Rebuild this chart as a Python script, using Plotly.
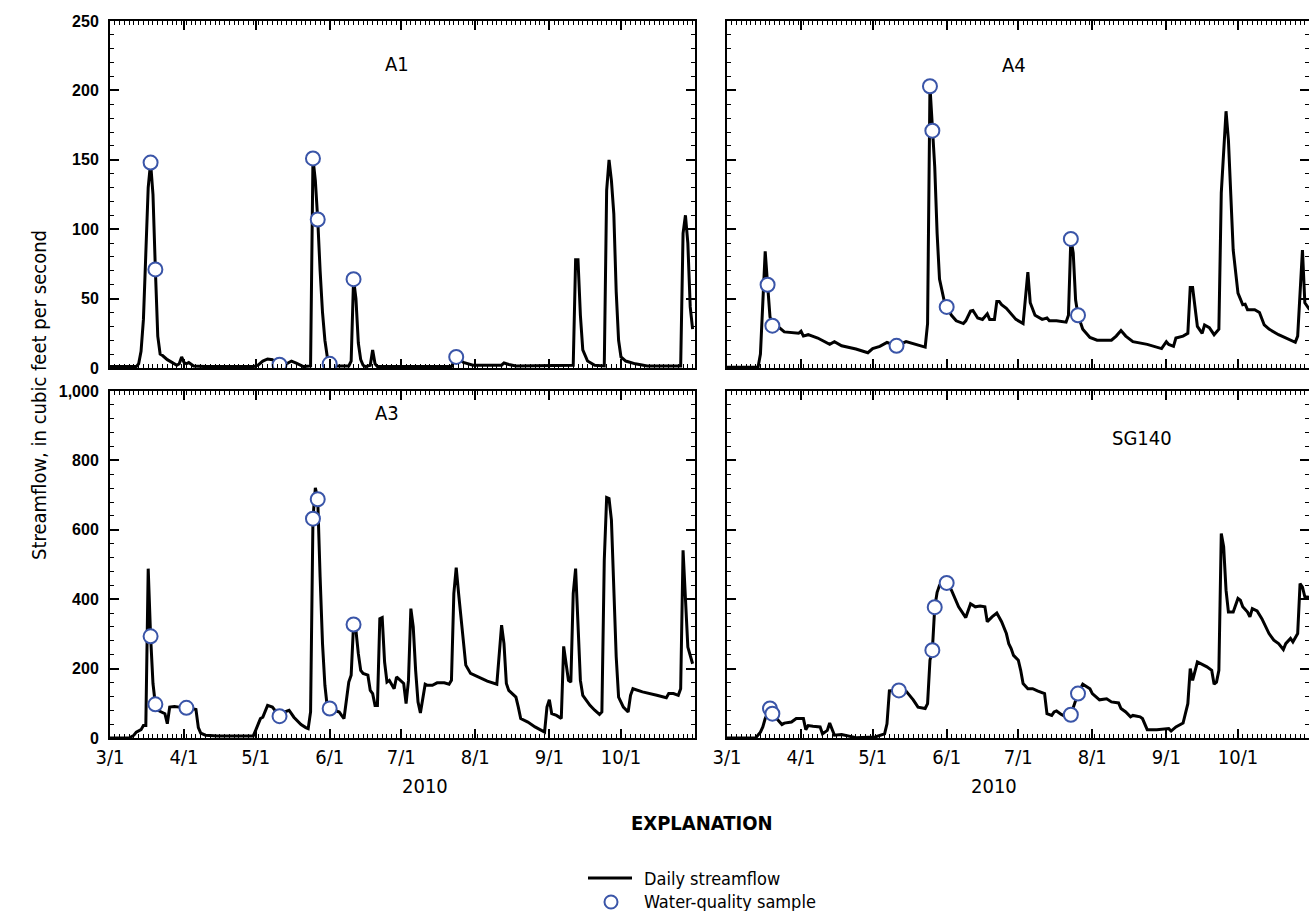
import pandas as pd
import plotly.graph_objects as go

YEAR = "2010"
MONTH_TICKS = ["3/1", "4/1", "5/1", "6/1", "7/1", "8/1", "9/1", "10/1"]

# ---- daily streamflow, (month/day, cubic feet per second) ----
A1_DAILY = [("3/1", 1), ("3/12", 1), ("3/13", 3), ("3/14", 12), ("3/15", 35), ("3/16", 90), ("3/17", 130),
            ("3/18", 148), ("3/19", 125), ("3/20", 71), ("3/21", 23), ("3/22", 10), ("3/23", 9), ("3/25", 6),
            ("3/27", 4), ("3/29", 2), ("3/30", 3), ("3/31", 8), ("4/1", 4), ("4/2", 3), ("4/3", 4), ("4/5", 1.5),
            ("4/10", 1), ("4/30", 1), ("5/2", 2), ("5/4", 5), ("5/6", 6.5), ("5/8", 6), ("5/10", 3), ("5/11", 2.4),
            ("5/14", 3), ("5/16", 5), ("5/18", 3.5), ("5/21", 1), ("5/24", 1.5), ("5/25", 151), ("5/26", 135),
            ("5/27", 107), ("5/28", 70), ("5/29", 40), ("5/30", 20), ("5/31", 8), ("6/1", 3), ("6/3", 1.5),
            ("6/9", 1.5), ("6/10", 5), ("6/11", 64), ("6/12", 50), ("6/13", 18), ("6/14", 6), ("6/15", 2),
            ("6/16", 1), ("6/18", 2), ("6/19", 13), ("6/20", 3), ("6/21", 1), ("7/22", 1), ("7/23", 5), ("7/24", 8),
            ("7/27", 4), ("7/31", 2), ("8/12", 2), ("8/13", 3.6), ("8/15", 2.5), ("8/18", 1.5), ("9/11", 2),
            ("9/12", 78), ("9/13", 78), ("9/14", 38), ("9/15", 13), ("9/17", 5), ("9/20", 2), ("9/24", 1.5),
            ("9/25", 128), ("9/26", 150), ("9/27", 135), ("9/28", 111), ("9/29", 55), ("9/30", 20), ("10/1", 8),
            ("10/3", 5), ("10/7", 3), ("10/12", 1.5), ("10/26", 1.5), ("10/27", 97), ("10/28", 110), ("10/29", 90),
            ("10/30", 44), ("10/31", 28)]
A1_SAMPLES = [("3/18", 148), ("3/20", 71), ("5/11", 2.4), ("5/25", 151), ("5/27", 107), ("6/1", 3),
              ("6/11", 64), ("7/24", 8)]

A4_DAILY = [("3/1", 0.5), ("3/14", 0.5), ("3/15", 10), ("3/16", 49), ("3/17", 84), ("3/18", 60), ("3/19", 37),
            ("3/20", 30.5), ("3/23", 29), ("3/25", 26), ("3/31", 25), ("4/1", 26.5), ("4/2", 23), ("4/4", 24),
            ("4/8", 21.6), ("4/13", 17), ("4/15", 19), ("4/18", 16), ("4/24", 13.7), ("4/29", 11), ("5/1", 14),
            ("5/4", 15.6), ("5/7", 18.5), ("5/11", 16), ("5/15", 19), ("5/23", 15), ("5/24", 32), ("5/25", 203),
            ("5/26", 171), ("5/27", 145), ("5/28", 97), ("5/29", 64), ("5/31", 48), ("6/1", 44), ("6/3", 38),
            ("6/5", 34), ("6/8", 32), ("6/9", 34), ("6/11", 41), ("6/12", 41.5), ("6/14", 36), ("6/16", 35),
            ("6/18", 39), ("6/19", 35), ("6/21", 35), ("6/22", 48), ("6/23", 48), ("6/24", 45.6), ("6/26", 43),
            ("6/30", 35), ("7/3", 32), ("7/5", 69), ("7/6", 47), ("7/8", 38), ("7/11", 35), ("7/13", 36),
            ("7/14", 34), ("7/17", 34), ("7/21", 33), ("7/22", 38), ("7/23", 93), ("7/24", 83), ("7/25", 49),
            ("7/26", 38), ("7/28", 28), ("7/31", 22), ("8/3", 20), ("8/9", 20), ("8/11", 23), ("8/13", 27),
            ("8/15", 23), ("8/18", 19), ("8/24", 17), ("8/30", 14), ("9/1", 19), ("9/2", 17), ("9/4", 15.6),
            ("9/5", 21.6), ("9/8", 23), ("9/10", 25), ("9/11", 58), ("9/12", 58), ("9/14", 30), ("9/16", 25),
            ("9/17", 31), ("9/19", 29), ("9/21", 24), ("9/23", 28), ("9/24", 126), ("9/26", 185), ("9/27", 164),
            ("9/29", 85), ("10/1", 54), ("10/3", 45.6), ("10/4", 46), ("10/5", 42), ("10/8", 42), ("10/10", 40),
            ("10/12", 31), ("10/14", 28), ("10/18", 24), ("10/25", 18.5), ("10/26", 23), ("10/28", 85),
            ("10/29", 47), ("10/31", 42)]
A4_SAMPLES = [("3/18", 60), ("3/20", 30.5), ("5/11", 16), ("5/25", 203), ("5/26", 171), ("6/1", 44),
              ("7/23", 93), ("7/26", 38)]

A3_DAILY = [("3/1", 0), ("3/9", 0), ("3/11", 8), ("3/12", 17), ("3/14", 24), ("3/15", 36), ("3/16", 36),
            ("3/17", 488), ("3/18", 293), ("3/19", 157), ("3/20", 97), ("3/21", 80), ("3/24", 70), ("3/25", 41),
            ("3/26", 89), ("3/28", 91), ("3/30", 89), ("4/2", 87), ("4/4", 85), ("4/6", 82), ("4/7", 30),
            ("4/8", 14), ("4/10", 8), ("4/15", 6), ("4/30", 6), ("5/1", 22), ("5/3", 56), ("5/4", 60), ("5/6", 94),
            ("5/8", 89), ("5/11", 63), ("5/13", 75), ("5/15", 80), ("5/17", 60), ("5/20", 39), ("5/22", 30),
            ("5/23", 27), ("5/24", 75), ("5/25", 632), ("5/26", 721), ("5/27", 688), ("5/28", 464), ("5/29", 272),
            ("5/30", 152), ("5/31", 89), ("6/1", 85), ("6/3", 80), ("6/5", 75), ("6/6", 65), ("6/7", 56),
            ("6/9", 161), ("6/10", 181), ("6/11", 327), ("6/12", 310), ("6/13", 243), ("6/14", 195), ("6/15", 186),
            ("6/17", 181), ("6/18", 137), ("6/19", 128), ("6/20", 94), ("6/21", 94), ("6/22", 344), ("6/23", 347),
            ("6/24", 219), ("6/25", 161), ("6/26", 166), ("6/28", 142), ("6/29", 176), ("7/1", 164), ("7/2", 157),
            ("7/3", 99), ("7/4", 166), ("7/5", 373), ("7/6", 320), ("7/7", 195), ("7/8", 104), ("7/9", 72),
            ("7/10", 108), ("7/11", 155), ("7/12", 152), ("7/14", 152), ("7/16", 159), ("7/19", 159), ("7/21", 155),
            ("7/22", 166), ("7/23", 416), ("7/24", 491), ("7/25", 416), ("7/27", 291), ("7/28", 210), ("7/30", 186),
            ("8/2", 176), ("8/6", 164), ("8/10", 155), ("8/12", 325), ("8/13", 272), ("8/14", 157), ("8/15", 137),
            ("8/18", 118), ("8/19", 89), ("8/20", 56), ("8/23", 46), ("8/26", 32), ("8/30", 17), ("8/31", 89),
            ("9/1", 110), ("9/2", 70), ("9/4", 65), ("9/6", 56), ("9/7", 264), ("9/9", 166), ("9/10", 161),
            ("9/11", 416), ("9/12", 488), ("9/13", 320), ("9/14", 166), ("9/15", 123), ("9/17", 104), ("9/18", 94),
            ("9/20", 80), ("9/22", 68), ("9/23", 75), ("9/24", 512), ("9/25", 693), ("9/26", 690), ("9/27", 628),
            ("9/28", 416), ("9/29", 234), ("9/30", 118), ("10/2", 89), ("10/4", 75), ("10/5", 123), ("10/6", 142),
            ("10/10", 133), ("10/16", 123), ("10/20", 116), ("10/21", 128), ("10/23", 128), ("10/25", 123),
            ("10/26", 142), ("10/27", 541), ("10/28", 416), ("10/29", 262), ("10/31", 214)]
A3_SAMPLES = [("3/18", 293), ("3/20", 97), ("4/2", 87), ("5/11", 63), ("5/25", 632), ("5/27", 688),
              ("6/1", 85), ("6/11", 327)]

SG140_DAILY = [("3/1", 0), ("3/13", 0), ("3/15", 17), ("3/16", 32), ("3/17", 56), ("3/19", 85), ("3/20", 70),
               ("3/22", 56), ("3/24", 39), ("3/25", 43), ("3/28", 46), ("3/30", 56), ("4/2", 56), ("4/3", 24),
               ("4/4", 36), ("4/6", 34), ("4/9", 32), ("4/10", 12), ("4/12", 22), ("4/13", 43), ("4/15", 8),
               ("4/18", 10), ("4/21", 5), ("4/24", 1), ("5/2", 3), ("5/6", 12), ("5/7", 41), ("5/8", 136),
               ("5/10", 137), ("5/12", 137), ("5/15", 135), ("5/18", 110), ("5/20", 89), ("5/23", 85), ("5/24", 99),
               ("5/25", 224), ("5/26", 253), ("5/27", 377), ("5/28", 420), ("5/29", 440), ("5/30", 450),
               ("5/31", 450), ("6/1", 447), ("6/3", 426), ("6/5", 392), ("6/6", 378), ("6/9", 347), ("6/11", 387),
               ("6/13", 378), ("6/15", 380), ("6/17", 378), ("6/18", 335), ("6/20", 349), ("6/21", 354),
               ("6/22", 360), ("6/24", 335), ("6/26", 301), ("6/27", 272), ("6/28", 258), ("6/29", 238),
               ("7/1", 224), ("7/2", 195), ("7/3", 157), ("7/5", 142), ("7/7", 142), ("7/9", 136), ("7/12", 128),
               ("7/13", 70), ("7/15", 65), ("7/16", 75), ("7/17", 78), ("7/19", 68), ("7/21", 61), ("7/23", 67),
               ("7/24", 89), ("7/26", 128), ("7/28", 155), ("7/31", 142), ("8/1", 128), ("8/4", 110), ("8/7", 113),
               ("8/9", 104), ("8/12", 101), ("8/13", 85), ("8/15", 75), ("8/17", 61), ("8/18", 65), ("8/21", 61),
               ("8/22", 56), ("8/24", 24), ("8/28", 24), ("9/2", 27), ("9/3", 20), ("9/5", 32), ("9/8", 43),
               ("9/9", 70), ("9/10", 99), ("9/11", 200), ("9/12", 166), ("9/14", 219), ("9/17", 210), ("9/18", 205),
               ("9/20", 195), ("9/21", 155), ("9/22", 161), ("9/23", 195), ("9/24", 589), ("9/25", 551),
               ("9/26", 426), ("9/27", 363), ("9/29", 363), ("10/1", 402), ("10/2", 397), ("10/3", 378),
               ("10/5", 363), ("10/6", 349), ("10/7", 373), ("10/9", 366), ("10/11", 344), ("10/13", 315),
               ("10/14", 301), ("10/16", 282), ("10/18", 272), ("10/20", 255), ("10/21", 272), ("10/23", 287),
               ("10/24", 277), ("10/26", 301), ("10/27", 445), ("10/28", 435), ("10/29", 407), ("10/31", 405)]
SG140_SAMPLES = [("3/19", 85), ("3/20", 70), ("5/12", 137), ("5/26", 253), ("5/27", 377), ("6/1", 447),
                 ("7/23", 67), ("7/26", 128)]

SITES = ["A1", "A4", "A3", "SG140"]
SITE_LABEL_DATES = ["6/29", "6/29", "6/25", "8/22"]
SITE_LABEL_Y = [0.945, 0.944, 0.5466, 0.5192]

Y_LABEL = "Streamflow, in cubic feet per second"
X_LABEL = "2010"
LEGEND_TITLE = "EXPLANATION"
LEGEND_LINE = "Daily streamflow"
LEGEND_MARK = "Water-quality sample"

NARROW = "DejaVu Sans Condensed, Liberation Sans Narrow, DejaVu Sans, sans-serif"
SANS = "Liberation Sans, Arial, sans-serif"
BLUE = "#3A55A8"
LINE_W = 3
MARK_SIZE = 14


def to_dates(pairs):
    return pd.to_datetime([f"{YEAR}/{d}" for d, _ in pairs], format="%Y/%m/%d")


def to_vals(pairs):
    return [v for _, v in pairs]


daily = [A1_DAILY, A4_DAILY, A3_DAILY, SG140_DAILY]
samples = [A1_SAMPLES, A4_SAMPLES, A3_SAMPLES, SG140_SAMPLES]

W, H = 1309, 911
fig = go.Figure()

for i in range(4):
    ax = "" if i == 0 else str(i + 1)
    fig.add_trace(go.Scatter(
        x=to_dates(daily[i]), y=to_vals(daily[i]), mode="lines",
        line=dict(color="black", width=LINE_W), name=LEGEND_LINE,
        showlegend=False, xaxis="x" + ax, yaxis="y" + ax, hoverinfo="skip"))
for i in range(4):
    ax = "" if i == 0 else str(i + 1)
    fig.add_trace(go.Scatter(
        x=to_dates(samples[i]), y=to_vals(samples[i]), mode="markers",
        marker=dict(symbol="circle", size=MARK_SIZE, color="white", line=dict(color=BLUE, width=2)),
        name=LEGEND_MARK, showlegend=False, xaxis="x" + ax, yaxis="y" + ax, hoverinfo="skip"))

left_dom = [110 / W, 695 / W]
right_dom = [727 / W, 1.0]
top_dom = [1 - 368 / H, 1 - 21 / H]
bot_dom = [1 - 738 / H, 1 - 391 / H]

common = dict(showline=True, linecolor="black", linewidth=2, mirror="ticks", ticks="inside",
              ticklen=9, tickwidth=1.6, tickcolor="black", showgrid=False, zeroline=False,
              automargin=False)

x_end_right = pd.Timestamp(f"{YEAR}-03-01") + pd.Timedelta(days=(W - 727) / (585 / 245))


def xaxis(dom, anchor, labels, end):
    return dict(common, type="date", domain=dom, anchor=anchor,
                range=[f"{YEAR}-03-01", end],
                tickvals=to_dates([(m, 0) for m in MONTH_TICKS]), ticktext=MONTH_TICKS,
                showticklabels=labels,
                tickfont=dict(family=NARROW, size=20, color="black"),
                minor=dict(ticks="inside", ticklen=4, tickwidth=1, tickcolor="black",
                           dtick=2 * 86400000, tick0=f"{YEAR}-03-01", showgrid=False))


def yaxis(dom, anchor, top, major, minor, labels):
    return dict(common, domain=dom, anchor=anchor, range=[0, top], dtick=major, tick0=0,
                tickformat=",d", showticklabels=labels, ticklabelstandoff=6,
                tickfont=dict(family=SANS, size=16, color="black", weight="bold"),
                minor=dict(ticks="inside", ticklen=4, tickwidth=1, tickcolor="black",
                           dtick=minor, tick0=0, showgrid=False))


fig.update_layout(
    width=W, height=H, margin=dict(l=0, r=0, t=0, b=0, autoexpand=False),
    plot_bgcolor="white", paper_bgcolor="white",
    xaxis=xaxis(left_dom, "y", False, f"{YEAR}-11-01"),
    xaxis2=xaxis(right_dom, "y2", False, x_end_right),
    xaxis3=xaxis(left_dom, "y3", True, f"{YEAR}-11-01"),
    xaxis4=xaxis(right_dom, "y4", True, x_end_right),
    yaxis=yaxis(top_dom, "x", 250, 50, 10, True),
    yaxis2=yaxis(top_dom, "x2", 250, 50, 10, False),
    yaxis3=yaxis(bot_dom, "x3", 1000, 200, 40, True),
    yaxis4=yaxis(bot_dom, "x4", 1000, 200, 40, False),
    showlegend=False,
)

ann = []
for i, name in enumerate(SITES):
    ax = "x" if i == 0 else "x" + str(i + 1)
    ann.append(dict(text=name, xref=ax, yref="paper",
                    x=to_dates([(SITE_LABEL_DATES[i], 0)])[0], y=SITE_LABEL_Y[i],
                    showarrow=False, font=dict(family=NARROW, size=20, color="black")))
ann.append(dict(text=Y_LABEL, xref="paper", yref="paper", x=25 / W, y=1 - 395 / H, textangle=-90,
                showarrow=False, font=dict(family=NARROW, size=20, color="black")))
ann.append(dict(text=X_LABEL, xref="paper", yref="paper", x=400 / W, y=1 - 800 / H,
                showarrow=False, font=dict(family=NARROW, size=20, color="black")))
ann.append(dict(text=X_LABEL, xref="paper", yref="paper", x=1019 / W, y=1 - 800 / H,
                showarrow=False, font=dict(family=NARROW, size=20, color="black")))
ann.append(dict(text="<b>" + LEGEND_TITLE + "</b>", xref="paper", yref="paper", x=702 / W, y=1 - 837 / H,
                showarrow=False, font=dict(family=NARROW, size=20, color="black")))
# explanation (legend) entries
ann.append(dict(text=LEGEND_LINE, xref="paper", yref="paper", x=642 / W, y=1 - 878 / H,
                xanchor="left", yanchor="middle", showarrow=False,
                font=dict(family=NARROW, size=18, color="black")))
ann.append(dict(text=LEGEND_MARK, xref="paper", yref="paper", x=642 / W, y=1 - 901 / H,
                xanchor="left", yanchor="middle", showarrow=False,
                font=dict(family=NARROW, size=18, color="black")))
fig.update_layout(annotations=ann)

fig.update_layout(shapes=[
    dict(type="line", xref="paper", yref="paper", x0=588 / W, x1=632 / W, y0=1 - 878 / H, y1=1 - 878 / H,
         line=dict(color="black", width=LINE_W)),
    dict(type="circle", xref="paper", yref="paper", xsizemode="pixel", ysizemode="pixel",
         xanchor=611 / W, yanchor=1 - 902 / H, x0=-6.5, x1=6.5, y0=-6.5, y1=6.5,
         fillcolor="white", line=dict(color=BLUE, width=2)),
])

fig.write_html("out.html")
